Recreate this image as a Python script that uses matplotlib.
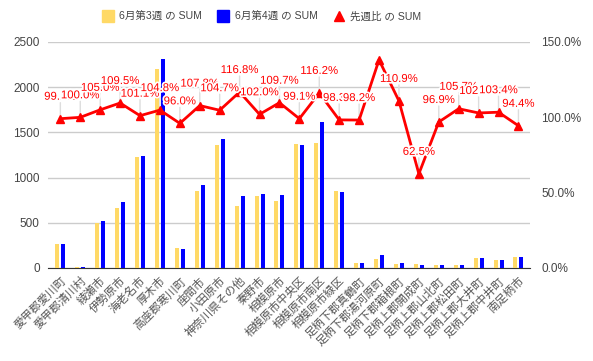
import matplotlib
matplotlib.use("Agg")
import matplotlib.pyplot as plt
import matplotlib.patheffects as pe
from matplotlib.lines import Line2D
import numpy as np

plt.rcParams['font.family'] = ['Liberation Sans', 'Noto Sans CJK JP', 'DejaVu Sans']

categories = ["愛甲郡愛川町", "愛甲郡清川村", "綾瀬市", "伊勢原市", "海老名市", "厚木市",
              "高座郡寒川町", "座間市", "小田原市", "神奈川県その他", "秦野市", "相模原市",
              "相模原市中央区", "相模原市南区", "相模原市緑区", "足柄下郡真鶴町", "足柄下郡湯河原町",
              "足柄下郡箱根町", "足柄上郡開成町", "足柄上郡山北町", "足柄上郡松田町", "足柄上郡大井町",
              "足柄上郡中井町", "南足柄市"]
week3 = [265, 10, 500, 667, 1229, 2204, 218, 852, 1366, 684, 800, 738,
         1370, 1387, 850, 56, 105, 46, 48, 32, 35, 107, 89, 124]
week4 = [263, 10, 525, 731, 1243, 2310, 209, 918, 1430, 799, 816, 810,
         1358, 1612, 836, 55, 145, 51, 30, 31, 37, 110, 92, 117]
ratio = [99.1, 100.0, 105.0, 109.5, 101.1, 104.8, 96.0, 107.8, 104.7, 116.8, 102.0, 109.7,
         99.1, 116.2, 98.3, 98.2, 138.1, 110.9, 62.5, 96.9, 105.7, 102.9, 103.4, 94.4]
hidden_labels = [16]
left_ticks = [0, 500, 1000, 1500, 2000, 2500]
right_ticks = [0, 50, 100, 150]
legend_labels = ["6月第3週 の SUM", "6月第4週 の SUM", "先週比 の SUM"]

c_yellow = "#ffd966"
c_blue = "#0000ff"
c_red = "#ff0000"
txt = "#444444"

fig = plt.figure(figsize=(5.93, 3.61), dpi=100)
ax = fig.add_axes([48/593, 1-268/361, (530-48)/593, (268-42)/361])
ax2 = ax.twinx()

x = np.arange(len(categories))
w = 0.2
ax.bar(x - 0.15, week3, width=w, color=c_yellow, zorder=3)
ax.bar(x + 0.15, week4, width=w, color=c_blue, zorder=3)

ax.set_ylim(0, 2500)
ax.set_xlim(-0.62, 23.58)
ax.set_yticks(left_ticks)
ax.set_yticklabels([str(t) for t in left_ticks], fontsize=8.5, color=txt)
ax.grid(axis='y', color='#cccccc', lw=1, zorder=0)
ax.set_axisbelow(True)
ax.set_xticks(x)
ax.set_xticklabels(categories, rotation=45, ha='right', rotation_mode='anchor',
                   fontsize=8.2, color='#555555', family=['Noto Sans CJK JP'])
ax.tick_params(axis='both', length=0)
ax.tick_params(axis='x', pad=5)
ax.tick_params(axis='y', pad=6)
for s in ['top', 'left', 'right']:
    ax.spines[s].set_visible(False)
    ax2.spines[s].set_visible(False)
ax.spines['bottom'].set_color('#333333')
ax2.spines['bottom'].set_visible(False)

r = np.array(ratio)
ax2.set_ylim(0, 150)
ax2.set_yticks(right_ticks)
ax2.set_yticklabels([f"{t:.1f}%" for t in right_ticks], fontsize=8.5, color=txt)
ax2.tick_params(axis='y', length=0, pad=8)

# stems
for i, v in enumerate(r):
    if i in hidden_labels:
        continue
    ax2.annotate("", xy=(x[i], v), xytext=(0, 16), textcoords='offset pixels',
                 arrowprops=dict(arrowstyle='-', color='#dddddd', lw=1, shrinkA=0, shrinkB=0),
                 zorder=2)
ax2.plot(x, r, color=c_red, lw=2, marker='^', markersize=6, zorder=4)
for i, v in enumerate(r):
    if i in hidden_labels:
        continue
    ax2.annotate(f"{v:.1f}%", xy=(x[i], v), xytext=(0, 22), textcoords='offset pixels',
                 ha='center', va='center', fontsize=8.2, color=c_red, zorder=5,
                 path_effects=[pe.withStroke(linewidth=2.5, foreground='white')])

handles = [Line2D([], [], ls='none', marker='s', markersize=8, color=c_yellow),
           Line2D([], [], ls='none', marker='s', markersize=8, color=c_blue),
           Line2D([], [], ls='none', marker='^', markersize=7, color=c_red)]
leg = fig.legend(handles, legend_labels, loc='center', bbox_to_anchor=(262/593, 1-17/361),
                 ncol=3, frameon=False, handlelength=1.0, handletextpad=0.6,
                 columnspacing=1.5, prop={'family': ['Liberation Sans', 'Noto Sans CJK JP'], 'size': 7.6})
for t in leg.get_texts():
    t.set_color(txt)

fig.savefig("out.png", dpi=100)
